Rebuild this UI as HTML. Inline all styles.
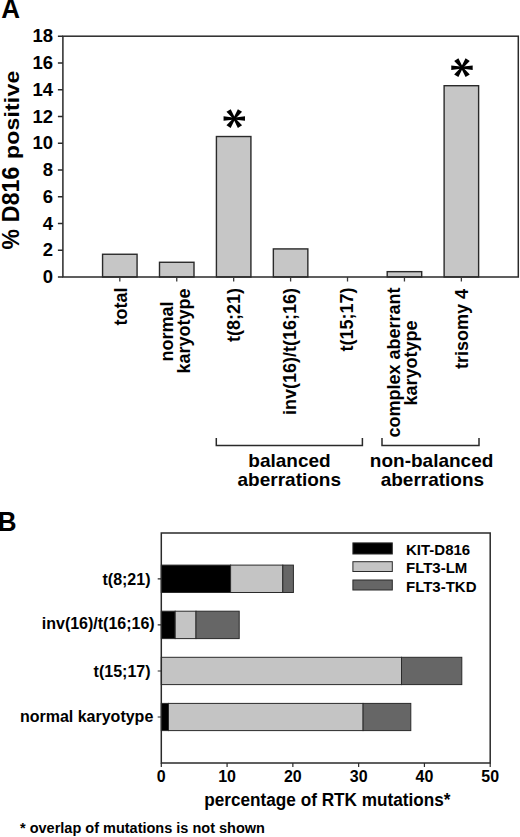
<!DOCTYPE html>
<html><head><meta charset="utf-8">
<style>
html,body{margin:0;padding:0;background:#fff;}
body{width:520px;height:837px;overflow:hidden;}
svg{display:block;}
text{font-family:"Liberation Sans",sans-serif;font-weight:bold;fill:#000;}
</style></head>
<body>
<svg width="520" height="837" viewBox="0 0 520 837">
<defs><g id="ast" fill="#000"><polygon points="0.80,0.85 -10.70,2.30 -10.70,-2.30 0.80,-0.85"/><polygon points="-0.80,-0.85 10.70,-2.30 10.70,2.30 -0.80,0.85"/><polygon points="-0.23,1.14 -7.80,-6.80 -3.60,-9.40 1.16,0.17"/><polygon points="-1.16,0.17 3.60,-9.40 7.80,-6.80 0.23,1.14"/><polygon points="1.16,-0.17 -3.60,9.40 -7.80,6.80 -0.23,-1.14"/><polygon points="0.23,-1.14 7.80,6.80 3.60,9.40 -1.16,-0.17"/><circle r="1.9"/></g></defs>
<text transform="translate(1.15,17.9) scale(1,1.04)" font-size="26">A</text>
<text transform="translate(19,249.4) rotate(-90) scale(1,1.02)" font-size="23" letter-spacing="0.2">% D816</text>
<text transform="translate(18.9,159.1) rotate(-90) scale(1,0.9)" font-size="23" letter-spacing="0.2">positive</text>
<g fill="#c6c6c6" stroke="#2a2a2a" stroke-width="1.4">
<rect x="102.57" y="254.26" width="34.5" height="22.74"/>
<rect x="159.50" y="262.28" width="34.5" height="14.72"/>
<rect x="216.42" y="136.53" width="34.5" height="140.47"/>
<rect x="273.35" y="248.91" width="34.5" height="28.09"/>
<rect x="387.20" y="271.65" width="34.5" height="5.35"/>
<rect x="444.12" y="85.70" width="34.5" height="191.30"/>
</g>
<use href="#ast" x="234.27" y="118.53"/>
<use href="#ast" x="461.97" y="67.70"/>
<rect x="62.9" y="36.2" width="455.40" height="240.80" fill="none" stroke="#2a2a2a" stroke-width="1.5"/>
<g stroke="#2a2a2a" stroke-width="1.4">
<path d="M57.9,277.00H62.9M57.9,250.24H62.9M57.9,223.49H62.9M57.9,196.73H62.9M57.9,169.98H62.9M57.9,143.22H62.9M57.9,116.47H62.9M57.9,89.71H62.9M57.9,62.96H62.9M57.9,36.20H62.9"/>
</g>
<path stroke="#3a3a3a" stroke-width="1.3" d="M119.82,277.0V281.6M176.75,277.0V281.6M233.67,277.0V281.6M290.60,277.0V281.6M347.52,277.0V281.6M404.45,277.0V281.6M461.37,277.0V281.6"/>
<g font-size="18.5" text-anchor="end">
<text transform="translate(53.1,283.20) scale(1,1.04)">0</text>
<text transform="translate(53.1,256.44) scale(1,1.04)">2</text>
<text transform="translate(53.1,229.69) scale(1,1.04)">4</text>
<text transform="translate(53.1,202.93) scale(1,1.04)">6</text>
<text transform="translate(53.1,176.18) scale(1,1.04)">8</text>
<text transform="translate(53.1,149.42) scale(1,1.04)">10</text>
<text transform="translate(53.1,122.67) scale(1,1.04)">12</text>
<text transform="translate(53.1,95.91) scale(1,1.04)">14</text>
<text transform="translate(53.1,69.16) scale(1,1.04)">16</text>
<text transform="translate(53.1,42.40) scale(1,1.04)">18</text>
</g>
<g font-size="18" text-anchor="middle">
<text transform="translate(127.2,306.5) rotate(-90) scale(1,1.04)">total</text>
<text transform="translate(172.6,331.5) rotate(-90) scale(1,1.04)">normal</text>
<text transform="translate(189.8,330.9) rotate(-90) scale(1,1.04)">karyotype</text>
<text transform="translate(239.5,314.9) rotate(-90) scale(1,1.04)">t(8;21)</text>
<text transform="translate(296.3,351.4) rotate(-90) scale(1,1.04)">inv(16)/t(16;16)</text>
<text transform="translate(352.7,319.6) rotate(-90) scale(1,1.04)">t(15;17)</text>
<text transform="translate(399.9,362.6) rotate(-90) scale(1,1.04)">complex aberrant</text>
<text transform="translate(417.3,363.1) rotate(-90) scale(1,1.04)">karyotype</text>
<text transform="translate(467.5,328.9) rotate(-90) scale(1,1.04)">trisomy 4</text>
</g>
<g fill="none" stroke="#2a2a2a" stroke-width="1.5"><path d="M216.3,438V445.5H362.4V438"/><path d="M382,438V445.5H479V438"/></g>
<g font-size="19" text-anchor="middle">
<text x="289.5" y="467.4">balanced</text><text x="289.3" y="485.7">aberrations</text>
<text x="431.6" y="467.4">non-balanced</text><text x="432.4" y="485.9">aberrations</text>
</g>
<text transform="translate(-2.2,530.7) scale(1,1.04)" font-size="26">B</text>
<g stroke="#2a2a2a" stroke-width="1">
<rect x="161.30" y="565.1" width="69.30" height="27.40" fill="#000"/>
<rect x="230.60" y="565.1" width="52.20" height="27.40" fill="#c4c4c4"/>
<rect x="282.80" y="565.1" width="10.60" height="27.40" fill="#666666"/>
<rect x="161.30" y="611.2" width="13.90" height="27.40" fill="#000"/>
<rect x="175.20" y="611.2" width="20.80" height="27.40" fill="#c4c4c4"/>
<rect x="196.00" y="611.2" width="43.20" height="27.40" fill="#666666"/>
<rect x="161.30" y="657.3" width="240.20" height="27.30" fill="#c4c4c4"/>
<rect x="401.50" y="657.3" width="60.30" height="27.30" fill="#666666"/>
<rect x="161.30" y="703.4" width="7.20" height="27.20" fill="#000"/>
<rect x="168.50" y="703.4" width="194.60" height="27.20" fill="#c4c4c4"/>
<rect x="363.10" y="703.4" width="47.70" height="27.20" fill="#666666"/>
</g>
<rect x="161.3" y="533.0" width="328.90" height="230.00" fill="none" stroke="#2a2a2a" stroke-width="1.5"/>
<g stroke="#2a2a2a" stroke-width="1.2">
<path d="M157.7,578.8H161.3M157.7,624.9H161.3M157.7,671.0H161.3M157.7,717.0H161.3"/>
<path d="M161.30,763.0V767M227.08,763.0V767M292.86,763.0V767M358.64,763.0V767M424.42,763.0V767M490.20,763.0V767"/>
</g>
<g font-size="16" text-anchor="end">
<text x="150.5" y="584.6">t(8;21)</text>
<text x="154.7" y="629.3">inv(16)/t(16;16)</text>
<text x="150.5" y="676.8">t(15;17)</text>
<text x="153.3" y="721.9">normal karyotype</text>
</g>
<g font-size="16" text-anchor="middle">
<text transform="translate(161.30,782) scale(1,1.04)">0</text>
<text transform="translate(227.08,782) scale(1,1.04)">10</text>
<text transform="translate(292.86,782) scale(1,1.04)">20</text>
<text transform="translate(358.64,782) scale(1,1.04)">30</text>
<text transform="translate(424.42,782) scale(1,1.04)">40</text>
<text transform="translate(490.20,782) scale(1,1.04)">50</text>
</g>
<text transform="translate(204.2,805.8) scale(1,1.04)" font-size="17.2">percentage of RTK mutations*</text>
<text x="20" y="832.7" font-size="14.5">* overlap of mutations is not shown</text>
<g stroke="#2a2a2a" stroke-width="1">
<rect x="352.9" y="542.9" width="39.4" height="11.1" fill="#000"/>
<rect x="352.9" y="561.7" width="39.4" height="9.8" fill="#c4c4c4"/>
<rect x="352.9" y="580" width="39.4" height="10" fill="#666666"/>
</g>
<g font-size="15">
<text x="406" y="554.6">KIT-D816</text><text x="406" y="573.2">FLT3-LM</text><text x="406" y="591.6">FLT3-TKD</text>
</g>
</svg>
</body></html>
